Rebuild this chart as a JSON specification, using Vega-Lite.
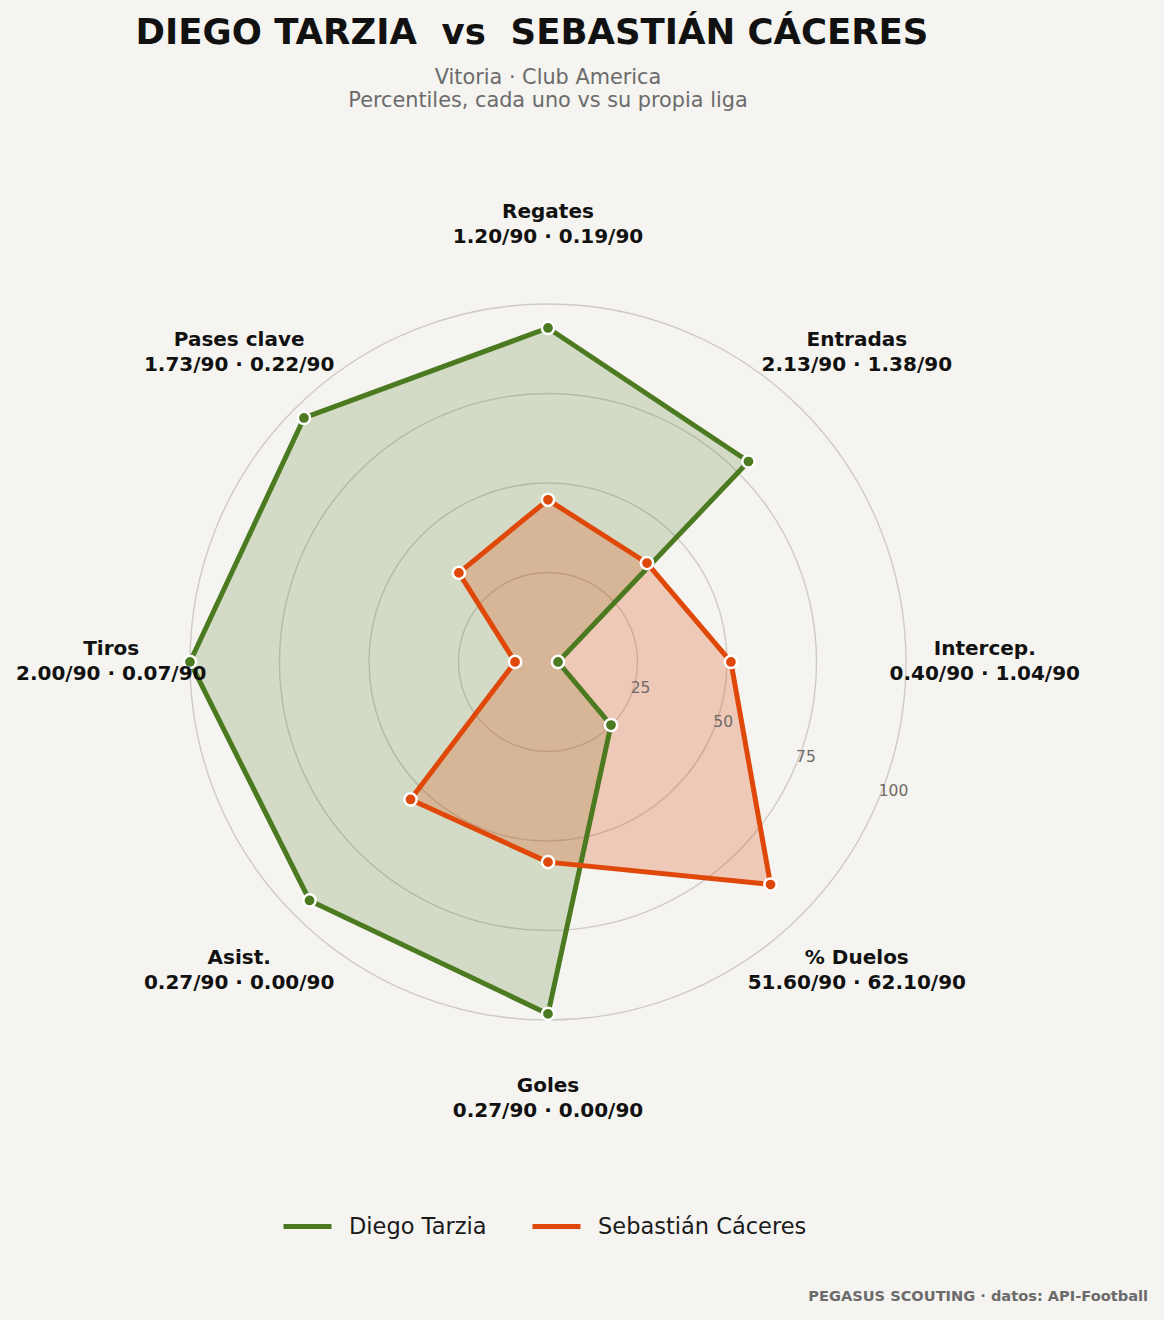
{
  "$schema": "https://vega.github.io/schema/vega-lite/v6.json",
  "width": 1164,
  "height": 1190,
  "autosize": {"type": "none"},
  "padding": {"left": 0, "right": 0, "top": 130, "bottom": 0},
  "background": "#f5f4f0",
  "config": {"view": {"stroke": null}, "font": "DejaVu Sans"},
  "title": {
    "text": "DIEGO TARZIA \u00a0vs \u00a0SEBASTIÁN CÁCERES",
    "anchor": "middle",
    "frame": "group",
    "dx": -50,
    "font": "DejaVu Sans",
    "fontSize": 35.5,
    "fontWeight": "bold",
    "color": "#111111",
    "offset": 16
  },
  "datasets": {
    "radar": [
      {"player": "Diego Tarzia", "metric": "Regates", "idx": 0, "pct": 93.3},
      {"player": "Diego Tarzia", "metric": "Entradas", "idx": 1, "pct": 79.2},
      {"player": "Diego Tarzia", "metric": "Intercep.", "idx": 2, "pct": 2.8},
      {"player": "Diego Tarzia", "metric": "% Duelos", "idx": 3, "pct": 24.9},
      {"player": "Diego Tarzia", "metric": "Goles", "idx": 4, "pct": 98.3},
      {"player": "Diego Tarzia", "metric": "Asist.", "idx": 5, "pct": 94.2},
      {"player": "Diego Tarzia", "metric": "Tiros", "idx": 6, "pct": 100},
      {"player": "Diego Tarzia", "metric": "Pases clave", "idx": 7, "pct": 96.4},
      {"player": "Sebastián Cáceres", "metric": "Regates", "idx": 0, "pct": 45.3},
      {"player": "Sebastián Cáceres", "metric": "Entradas", "idx": 1, "pct": 39.1},
      {"player": "Sebastián Cáceres", "metric": "Intercep.", "idx": 2, "pct": 51.1},
      {"player": "Sebastián Cáceres", "metric": "% Duelos", "idx": 3, "pct": 87.9},
      {"player": "Sebastián Cáceres", "metric": "Goles", "idx": 4, "pct": 55.9},
      {"player": "Sebastián Cáceres", "metric": "Asist.", "idx": 5, "pct": 54.3},
      {"player": "Sebastián Cáceres", "metric": "Tiros", "idx": 6, "pct": 9.2},
      {"player": "Sebastián Cáceres", "metric": "Pases clave", "idx": 7, "pct": 35.2}
    ],
    "axes": [
      {"idx": 0, "label": "Regates\n1.20/90 · 0.19/90"},
      {"idx": 1, "label": "Entradas\n2.13/90 · 1.38/90"},
      {"idx": 2, "label": "Intercep.\n0.40/90 · 1.04/90"},
      {"idx": 3, "label": "% Duelos\n51.60/90 · 62.10/90"},
      {"idx": 4, "label": "Goles\n0.27/90 · 0.00/90"},
      {"idx": 5, "label": "Asist.\n0.27/90 · 0.00/90"},
      {"idx": 6, "label": "Tiros\n2.00/90 · 0.07/90"},
      {"idx": 7, "label": "Pases clave\n1.73/90 · 0.22/90"}
    ],
    "rings": [{"r": 25}, {"r": 50}, {"r": 75}, {"r": 100}],
    "subtitle": [{"text": "Vitoria · Club America\nPercentiles, cada uno vs su propia liga"}],
    "note": [{"text": "PEGASUS SCOUTING · datos: API-Football"}]
  },
  "layer": [
    {
      "data": {"name": "rings"},
      "mark": {"type": "arc", "theta": 0, "theta2": 6.2832, "filled": false, "stroke": "#cfcbc5", "strokeWidth": 1.4},
      "encoding": {
        "x": {"datum": 0, "type": "quantitative", "scale": {"domain": [-153.07, 172.07], "nice": false, "zero": false}, "axis": null},
        "y": {"datum": 0, "type": "quantitative", "scale": {"domain": [-183.8, 148.6], "nice": false, "zero": false}, "axis": null},
        "radius": {"field": "r", "type": "quantitative", "stack": null, "scale": {"type": "linear", "domain": [0, 100], "range": [0, 358], "zero": true}}
      }
    },
    {
      "data": {"name": "radar"},
      "transform": [
        {"filter": "datum.player === 'Diego Tarzia'"},
        {"calculate": "datum.pct * sin(datum.idx * PI / 4)", "as": "px"},
        {"calculate": "datum.pct * cos(datum.idx * PI / 4)", "as": "py"}
      ],
      "mark": {"type": "line", "interpolate": "linear-closed", "fill": "#4b7a20", "fillOpacity": 0.2, "strokeOpacity": 0},
      "encoding": {
        "x": {"field": "px", "type": "quantitative"},
        "y": {"field": "py", "type": "quantitative"},
        "order": {"field": "idx", "type": "quantitative"}
      }
    },
    {
      "data": {"name": "radar"},
      "transform": [
        {"filter": "datum.player === 'Sebastián Cáceres'"},
        {"calculate": "datum.pct * sin(datum.idx * PI / 4)", "as": "px"},
        {"calculate": "datum.pct * cos(datum.idx * PI / 4)", "as": "py"}
      ],
      "mark": {"type": "line", "interpolate": "linear-closed", "fill": "#e0480a", "fillOpacity": 0.25, "strokeOpacity": 0},
      "encoding": {
        "x": {"field": "px", "type": "quantitative"},
        "y": {"field": "py", "type": "quantitative"},
        "order": {"field": "idx", "type": "quantitative"}
      }
    },
    {
      "data": {"name": "radar"},
      "transform": [
        {"calculate": "datum.pct * sin(datum.idx * PI / 4)", "as": "px"},
        {"calculate": "datum.pct * cos(datum.idx * PI / 4)", "as": "py"}
      ],
      "mark": {"type": "line", "interpolate": "linear-closed", "strokeWidth": 5, "strokeJoin": "round"},
      "encoding": {
        "x": {"field": "px", "type": "quantitative"},
        "y": {"field": "py", "type": "quantitative"},
        "order": {"field": "idx", "type": "quantitative"},
        "color": {
          "field": "player",
          "type": "nominal",
          "sort": ["Diego Tarzia", "Sebastián Cáceres"],
          "scale": {"domain": ["Diego Tarzia", "Sebastián Cáceres"], "range": ["#4b7a20", "#e0480a"]},
          "legend": {
            "title": null,
            "orient": "none",
            "legendX": 281,
            "legendY": 1070,
            "direction": "horizontal",
            "symbolType": "stroke",
            "symbolSize": 2304,
            "symbolStrokeWidth": 5,
            "labelFont": "DejaVu Sans",
            "labelFontSize": 22.5,
            "labelColor": "#1a1a1a",
            "labelOffset": 15,
            "labelLimit": 400,
            "columnPadding": 35,
            "padding": 0
          }
        }
      }
    },
    {
      "data": {"name": "radar"},
      "transform": [
        {"calculate": "datum.pct * sin(datum.idx * PI / 4)", "as": "px"},
        {"calculate": "datum.pct * cos(datum.idx * PI / 4)", "as": "py"}
      ],
      "mark": {"type": "point", "shape": "circle", "filled": true, "size": 150, "stroke": "#ffffff", "strokeWidth": 2.5, "opacity": 1},
      "encoding": {
        "x": {"field": "px", "type": "quantitative"},
        "y": {"field": "py", "type": "quantitative"},
        "fill": {
          "field": "player",
          "type": "nominal",
          "scale": {"domain": ["Diego Tarzia", "Sebastián Cáceres"], "range": ["#4b7a20", "#e0480a"]},
          "legend": null
        }
      }
    },
    {
      "data": {"name": "rings"},
      "transform": [
        {"calculate": "datum.r * 0.92388", "as": "lx"},
        {"calculate": "datum.r * -0.38268", "as": "ly"}
      ],
      "mark": {"type": "text", "align": "left", "baseline": "bottom", "font": "DejaVu Sans", "fontSize": 15.5, "color": "#6e6a66"},
      "encoding": {
        "x": {"field": "lx", "type": "quantitative"},
        "y": {"field": "ly", "type": "quantitative"},
        "text": {"field": "r", "type": "quantitative"}
      }
    },
    {
      "data": {"name": "axes"},
      "transform": [
        {"calculate": "122 * sin(datum.idx * PI / 4)", "as": "ax"},
        {"calculate": "122 * cos(datum.idx * PI / 4)", "as": "ay"}
      ],
      "mark": {"type": "text", "align": "center", "baseline": "middle", "dy": -13, "lineBreak": "\n", "lineHeight": 25, "font": "DejaVu Sans", "fontSize": 20, "fontWeight": "bold", "color": "#111111"},
      "encoding": {
        "x": {"field": "ax", "type": "quantitative"},
        "y": {"field": "ay", "type": "quantitative"},
        "text": {"field": "label", "type": "nominal"}
      }
    },
    {
      "data": {"name": "subtitle"},
      "mark": {"type": "text", "align": "center", "baseline": "middle", "lineBreak": "\n", "lineHeight": 23, "font": "DejaVu Sans", "fontSize": 20.8, "color": "#6b6b6b"},
      "encoding": {
        "x": {"datum": 0, "type": "quantitative"},
        "y": {"datum": 163.0, "type": "quantitative"},
        "text": {"field": "text", "type": "nominal"}
      }
    },
    {
      "data": {"name": "note"},
      "mark": {"type": "text", "align": "right", "baseline": "middle", "font": "DejaVu Sans", "fontSize": 14.6, "fontWeight": "bold", "color": "#6b6b6b"},
      "encoding": {
        "x": {"datum": 167.6, "type": "quantitative"},
        "y": {"datum": -177.4, "type": "quantitative"},
        "text": {"field": "text", "type": "nominal"}
      }
    }
  ]
}
